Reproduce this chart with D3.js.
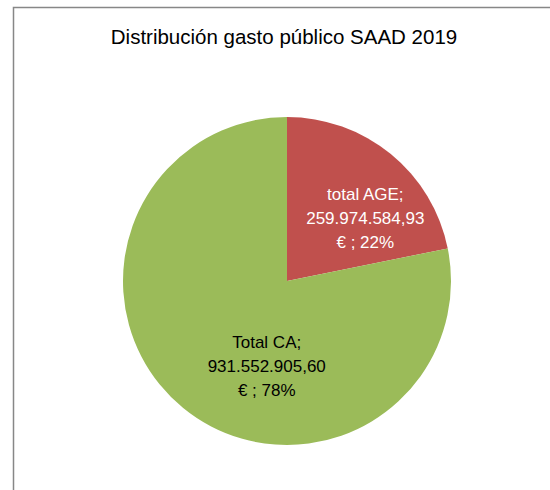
<!DOCTYPE html>
<html>
<head>
<meta charset="utf-8">
<script src="https://cdn.jsdelivr.net/npm/d3@7"></script>
<style>
  body { margin: 0; background: #fff; }
  svg { display: block; font-family: "Liberation Sans", Arial, sans-serif; }
</style>
</head>
<body>
<div id="chart"></div>
<script>
// data
const labels = ["total AGE", "Total CA"];
const values = [259974584.93, 931552905.60];
const colors = ["#C0504D", "#9BBB59"];
const textColors = ["#ffffff", "#000000"];
const title = "Distribución gasto público SAAD 2019";

const width = 550;
const height = 490;

const svg = d3.select("#chart")
  .append("svg")
  .attr("width", width)
  .attr("height", height);

// chart frame (right and bottom edges run off the picture)
svg.append("rect")
  .attr("x", 13.5)
  .attr("y", 7.5)
  .attr("width", 600)
  .attr("height", 600)
  .attr("fill", "#fff")
  .attr("stroke", "#878787")
  .attr("stroke-width", 1.5);

svg.append("text")
  .attr("x", 284)
  .attr("y", 44)
  .attr("text-anchor", "middle")
  .attr("font-size", 20.5)
  .attr("fill", "#000")
  .text(title);

const cx = 287, cy = 281, r = 164;

const pie = d3.pie().sort(null).value(d => d);
const arcs = pie(values);

const arc = d3.arc().innerRadius(0).outerRadius(r);

const g = svg.append("g").attr("transform", `translate(${cx},${cy})`);

g.selectAll("path")
  .data(arcs)
  .join("path")
  .attr("d", arc)
  .attr("fill", (d, i) => colors[i]);

// labels: centroid of a label arc, nudged like Excel's best fit
const labelArc = d3.arc().innerRadius(r * 0.6).outerRadius(r * 0.6);
const nudge = [[16, 13], [42, 9]];
const fmtNum = v => v.toLocaleString("es-ES", { minimumFractionDigits: 2, maximumFractionDigits: 2, useGrouping: "always" });
const total = d3.sum(values);

arcs.forEach((d, i) => {
  const [x, y] = labelArc.centroid(d);
  const lines = [
    labels[i] + ";",
    fmtNum(values[i]),
    "€ ; " + Math.round(values[i] / total * 100) + "%"
  ];
  const t = g.append("text")
    .attr("text-anchor", "middle")
    .attr("font-size", 17)
    .attr("fill", textColors[i])
    .attr("transform", `translate(${x + nudge[i][0]},${y + nudge[i][1]})`);
  lines.forEach((s, k) => {
    t.append("tspan")
      .attr("x", 0)
      .attr("y", (k - 1) * 24 + 6)
      .text(s);
  });
});
</script>
</body>
</html>
